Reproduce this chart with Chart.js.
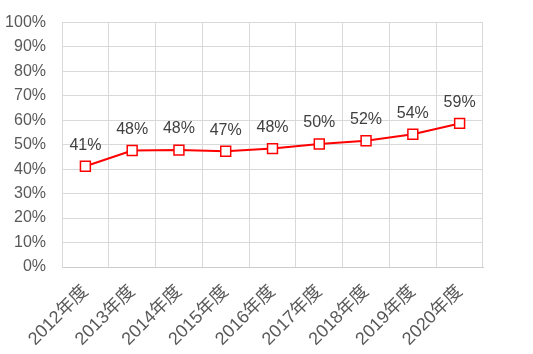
<!DOCTYPE html>
<html lang="ja">
<head>
    <meta charset="UTF-8">
    <title>年度別推移</title>
    <script src="https://cdn.jsdelivr.net/npm/chart.js"></script>
    <style>
        html, body { margin: 0; padding: 0; background: #fff; }
        #wrap { width: 533px; height: 354px; }
    </style>
</head>
<body>
    <div id="wrap"><canvas id="rateChart"></canvas></div>
    <script>
        // data (percent)
        const years = ["2012年度", "2013年度", "2014年度", "2015年度", "2016年度", "2017年度", "2018年度", "2019年度", "2020年度"];
        const rates = [41.2, 47.6, 47.8, 47.3, 48.4, 50.3, 51.6, 54.3, 58.7];
        const yTicks = [0, 10, 20, 30, 40, 50, 60, 70, 80, 90, 100];

        const fontNum = "'Liberation Sans', Arial, sans-serif";
        const fontJa = "'Liberation Sans', 'Noto Sans CJK JP', sans-serif";

        // draws the percent labels above each point
        const valueLabels = {
            id: "valueLabels",
            afterDatasetsDraw(chart) {
                const ctx = chart.ctx;
                const meta = chart.getDatasetMeta(0);
                ctx.save();
                ctx.font = "16px " + fontNum;
                ctx.fillStyle = "#404040";
                ctx.textAlign = "center";
                ctx.textBaseline = "middle";
                meta.data.forEach((pt, i) => {
                    ctx.fillText(Math.round(rates[i]) + "%", pt.x, pt.y - 21);
                });
                ctx.restore();
            }
        };

        new Chart(document.getElementById("rateChart"), {
            type: "line",
            data: {
                labels: years,
                datasets: [{
                    data: rates,
                    borderColor: "#ff0000",
                    borderWidth: 2,
                    pointStyle: "rect",
                    pointRadius: 7,
                    pointHoverRadius: 7,
                    pointBackgroundColor: "#ffffff",
                    pointBorderColor: "#ff0000",
                    pointBorderWidth: 1.5,
                    tension: 0
                }]
            },
            options: {
                responsive: true,
                maintainAspectRatio: false,
                animation: false,
                layout: { padding: { top: 14, right: 50, left: 0, bottom: 0 } },
                plugins: {
                    legend: { display: false },
                    tooltip: { enabled: false }
                },
                scales: {
                    x: {
                        offset: true,
                        grid: { offset: true, color: "#d9d9d9", drawTicks: false },
                        border: { color: "#cccccc" },
                        ticks: {
                            color: "#595959",
                            font: { size: 18, family: fontJa },
                            maxRotation: 45,
                            minRotation: 45,
                            padding: 14
                        },
                        afterFit(scale) { scale.height = 87; }
                    },
                    y: {
                        min: 0,
                        max: 100,
                        afterBuildTicks(scale) { scale.ticks = yTicks.map(v => ({ value: v })); },
                        grid: { color: "#d9d9d9", drawTicks: false },
                        border: { color: "#d9d9d9" },
                        ticks: {
                            color: "#595959",
                            font: { size: 16, family: fontNum, lineHeight: 0.8 },
                            padding: 16,
                            callback: v => v + "%"
                        },
                        afterFit(scale) { scale.width = 62; }
                    }
                }
            },
            plugins: [valueLabels]
        });
    </script>
</body>
</html>
